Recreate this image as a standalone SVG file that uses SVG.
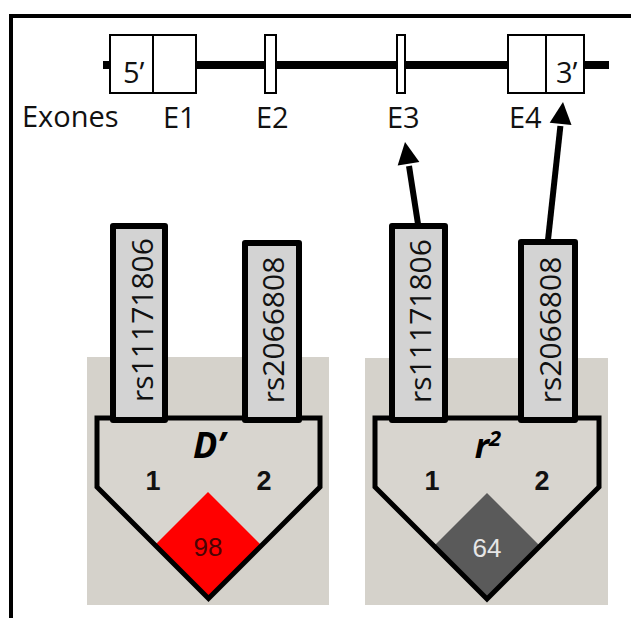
<svg xmlns="http://www.w3.org/2000/svg" width="631" height="618" viewBox="0 0 631 618">
<style>
.t{font-family:"Open Sans","Liberation Sans",sans-serif;fill:#111}
.exon{fill:#fff;stroke:#000;stroke-width:2}
.snp{fill:#d3d3d3;stroke:#000;stroke-width:6;stroke-linejoin:round}
.snpt{font-family:"Open Sans","Liberation Sans",sans-serif;font-size:30px;fill:#111;text-anchor:middle}
.bg{fill:#d5d2cb}
.pent{fill:#d8d5cf}
.pentS{fill:none;stroke:#000;stroke-width:5;stroke-linejoin:miter}
.num{font-family:"Liberation Sans",Arial,sans-serif;font-weight:bold;font-size:27px;fill:#111;text-anchor:middle}
.val{font-family:"Liberation Sans",Arial,sans-serif;font-size:26px;text-anchor:middle}
.stat{font-family:"Open Sans","Liberation Sans",sans-serif;font-weight:bold;font-style:italic;fill:#000;text-anchor:middle}
.arr{stroke:#000;stroke-width:6;fill:none}
</style>
<rect x="0" y="0" width="631" height="618" fill="#fff"/>
<g id="frame">
<line x1="9" y1="16" x2="631" y2="16" stroke="#000" stroke-width="4"/>
<line x1="11" y1="14" x2="11" y2="618" stroke="#000" stroke-width="4"/>
</g>
<g id="gene">
<line x1="103" y1="65" x2="609" y2="65" stroke="#000" stroke-width="8"/>
<g id="E1"><rect class="exon" x="110" y="35" width="86" height="58"/><line x1="153" y1="35" x2="153" y2="93" stroke="#000" stroke-width="2"/><text class="t" x="123" y="83" font-size="29">5’</text></g>
<g id="E2"><rect class="exon" x="265" y="35" width="11" height="58"/></g>
<g id="E3"><rect class="exon" x="397" y="35" width="8" height="58"/></g>
<g id="E4"><rect class="exon" x="508" y="35" width="76" height="58"/><line x1="546" y1="35" x2="546" y2="93" stroke="#000" stroke-width="2"/><text class="t" x="556" y="83" font-size="29">3’</text></g>
<text class="t" x="22" y="127" font-size="29">Exones</text>
<text class="t" x="163" y="128" font-size="29">E1</text>
<text class="t" x="256" y="128" font-size="29">E2</text>
<text class="t" x="387" y="128" font-size="29">E3</text>
<text class="t" x="509" y="128" font-size="29">E4</text>
</g>
<g id="panelD">
<rect class="bg" x="87" y="357" width="242" height="248"/>
<polygon class="pent" points="97,418 320,418 320,487 208.5,598.5 97,487"/>
<polygon fill="#ff0000" points="208,492 261.5,545.5 208.5,598.5 155,545"/>
<polygon class="pentS" points="97,418 320,418 320,487 208.5,598.5 97,487"/>
<text class="stat" x="209" y="458" font-size="36">D’</text>
<text class="num" x="153" y="490">1</text>
<text class="num" x="264" y="490">2</text>
<text class="val" x="208" y="556" fill="#4a0404">98</text>
<g id="snpD1"><rect class="snp" x="113" y="226" width="52" height="194"/><text class="snpt" transform="translate(153 320) rotate(-90)">rs11171806</text></g>
<g id="snpD2"><rect class="snp" x="245" y="243" width="54" height="177"/><text class="snpt" transform="translate(284 330) rotate(-90)">rs2066808</text></g>
</g>
<g id="panelR">
<rect class="bg" x="365" y="358" width="243" height="247"/>
<polygon class="pent" points="375,418 599,418 599,487 487,599 375,487"/>
<polygon fill="#5a5a5a" points="487,493 540,546 487,599 434,546"/>
<polygon class="pentS" points="375,418 599,418 599,487 487,599 375,487"/>
<text class="stat" x="482" y="458" font-size="34">r</text>
<text class="stat" x="495" y="446" font-size="22">2</text>
<text class="num" x="432" y="490">1</text>
<text class="num" x="542" y="490">2</text>
<text class="val" x="487" y="557" fill="#e6e6e6">64</text>
<g id="snpR1"><rect class="snp" x="392" y="226" width="53" height="194"/><text class="snpt" transform="translate(431 321) rotate(-90)">rs11171806</text></g>
<g id="snpR2"><rect class="snp" x="521" y="242" width="54" height="178"/><text class="snpt" transform="translate(561 330) rotate(-90)">rs2066808</text></g>
</g>
<g id="connectors">
<line class="arr" x1="418" y1="224" x2="409" y2="166"/>
<polygon points="405,142 419.4,162 397.7,165.5" fill="#000"/>
<line class="arr" x1="548" y1="240" x2="560.4" y2="126"/>
<polygon points="563,102 571.5,125 549.7,122.7" fill="#000"/>
</g>
</svg>
